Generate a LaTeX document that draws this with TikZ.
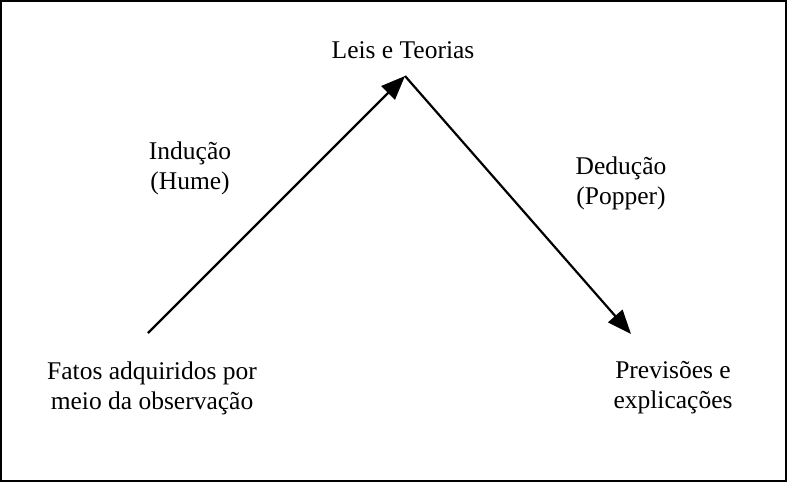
\documentclass[tikz,border=0pt]{standalone}
\usepackage{fontspec}
\setmainfont{Liberation Serif}
\usetikzlibrary{arrows.meta}

\begin{document}
\begin{tikzpicture}[x=1pt,y=-1pt,
    label/.style={font={\fontsize{25.5}{30}\selectfont},align=center},
    step arrow/.style={line width=2.2pt,-{Triangle[length=24pt,width=19pt]}}]
\draw[line width=2pt] (1,1) rectangle (786,481);

\node[label] (leis) at (403,50) {Leis e Teorias};
\node[label] (ind) at (190,168) {Indução\\(Hume)};
\node[label] (ded) at (621,183) {Dedução\\(Popper)};
\node[label] (fatos) at (152,388) {Fatos adquiridos por\\meio da observação};
\node[label] (prev) at (673,388) {Previsões e\\explicações};

\coordinate (start) at (148,333);
\coordinate (top) at (405,76);
\coordinate (stop) at (631,334);

\draw[step arrow] (start) -- (top);
\draw[step arrow] (top) -- (stop);
\end{tikzpicture}
\end{document}
